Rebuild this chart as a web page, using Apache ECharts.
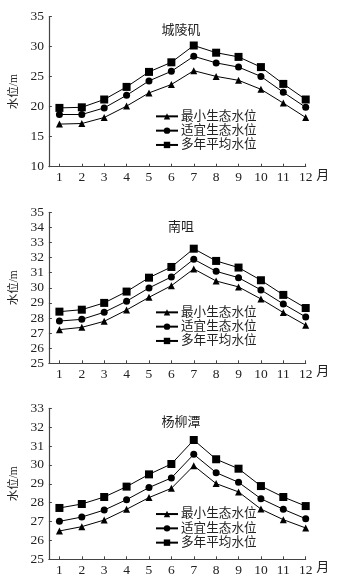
<!DOCTYPE html>
<html><head><meta charset="utf-8">
<script src="https://cdn.jsdelivr.net/npm/echarts@6/dist/echarts.min.js"></script>
<style>html,body{margin:0;padding:0;background:#fff}#c{width:339px;height:585px}</style>
</head><body><div id="c"></div>
<script>
const months = [1,2,3,4,5,6,7,8,9,10,11,12];
const seriesNames = ['最小生态水位','适宜生态水位','多年平均水位'];
const stations = ['城陵矶','南咀','杨柳潭'];
const yMins = [10, 25, 25];
const yMaxs = [35, 35, 33];
const yIntervals = [5, 1, 1];
// 城陵矶
const clMin = [17.1,17.2,18.2,20.1,22.3,23.7,26.0,25.05,24.4,22.9,20.6,18.2];
const clOpt = [18.7,18.7,19.8,21.9,24.3,25.9,28.4,27.3,26.6,25.05,22.4,19.9];
const clAvg = [19.8,19.9,21.2,23.3,25.8,27.4,30.2,29.0,28.3,26.6,23.8,21.2];
// 南咀
const nzMin = [27.23,27.38,27.78,28.53,29.37,30.14,31.25,30.45,30.06,29.26,28.36,27.52];
const nzOpt = [27.80,27.91,28.38,29.11,29.99,30.72,31.89,31.09,30.67,29.86,28.93,28.07];
const nzAvg = [28.42,28.55,29.00,29.75,30.67,31.38,32.59,31.78,31.34,30.50,29.53,28.66];
// 杨柳潭
const yltMin = [26.50,26.73,27.08,27.65,28.27,28.76,29.96,29.01,28.57,27.66,27.10,26.66];
const yltOpt = [27.01,27.24,27.61,28.16,28.80,29.31,30.56,29.59,29.08,28.21,27.65,27.15];
const yltAvg = [27.72,27.93,28.30,28.85,29.50,30.05,31.32,30.30,29.80,28.88,28.30,27.82];

const panels = [[clMin, clOpt, clAvg],[nzMin, nzOpt, nzAvg],[yltMin, yltOpt, yltAvg]];
const symbols = ['triangle','circle','rect'];
const symbolSizes = [7, 7, 8];

const FONT = "'Liberation Serif', 'Noto Sans CJK SC', serif";
const TXT = '#222';
const gridTops = [16.7, 212.3, 408.3];
const gridHeights = [150, 151, 151];
const titleTops = [19, 216, 411];
const legendTops = [109.2, 305.2, 506.9];

const grids = [], xAxes = [], yAxes = [], series = [], titles = [], legends = [];
for (let p = 0; p < 3; p++) {
  grids.push({left: 35.7, right: 33.3, top: gridTops[p], height: gridHeights[p], containLabel: false});
  xAxes.push({
    type: 'value', gridIndex: p, min: 0.53, max: 12,
    name: '月', nameLocation: 'end', nameGap: 9,
    nameTextStyle: {fontFamily: FONT, fontSize: 13, color: TXT, verticalAlign: 'top', padding: [2,0,0,0]},
    axisLine: {show: true, lineStyle: {color: '#444', width: 1.2}},
    axisTick: {show: true, inside: true, length: 3, lineStyle: {color: '#444'}, customValues: months},
    axisLabel: {show: true, margin: 4, fontFamily: FONT, fontSize: 13.5, color: TXT, customValues: months},
    splitLine: {show: false}
  });
  yAxes.push({
    type: 'value', gridIndex: p, min: yMins[p], max: yMaxs[p], interval: yIntervals[p],
    name: '水位/m', nameLocation: 'middle', nameGap: 22, nameRotate: 90,
    nameTextStyle: {fontFamily: FONT, fontSize: 11.5, color: TXT},
    axisLine: {show: true, lineStyle: {color: '#444', width: 1.2}},
    axisTick: {show: true, inside: true, length: 3, lineStyle: {color: '#444'}},
    axisLabel: {margin: 5, fontFamily: FONT, fontSize: 13.5, color: TXT},
    splitLine: {show: false}
  });
  titles.push({text: stations[p], left: 176, top: titleTops[p], textAlign: 'center',
    textStyle: {fontFamily: FONT, fontSize: 13, fontWeight: 'normal', color: TXT}});
  legends.push({
    orient: 'vertical', left: 155, top: legendTops[p], itemWidth: 22, itemHeight: 8, itemGap: 0,
    padding: 0,
    data: seriesNames,
    textStyle: {fontFamily: FONT, fontSize: 12.6, lineHeight: 14.3, color: TXT, padding: [0,0,0,-2]},
    selectedMode: false
  });
  for (let s = 0; s < 3; s++) {
    series.push({
      type: 'line', name: seriesNames[s], xAxisIndex: p, yAxisIndex: p,
      data: months.map((m, i) => [m, panels[p][s][i]]),
      symbol: symbols[s], symbolSize: symbolSizes[s], showSymbol: true,
      lineStyle: {color: '#000', width: 1}, itemStyle: {color: '#000'},
      silent: true, animation: false
    });
  }
}
const chart = echarts.init(document.getElementById('c'), null, {renderer: 'canvas'});
chart.setOption({animation: false, title: titles, legend: legends, grid: grids, xAxis: xAxes, yAxis: yAxes, series: series});
</script></body></html>
